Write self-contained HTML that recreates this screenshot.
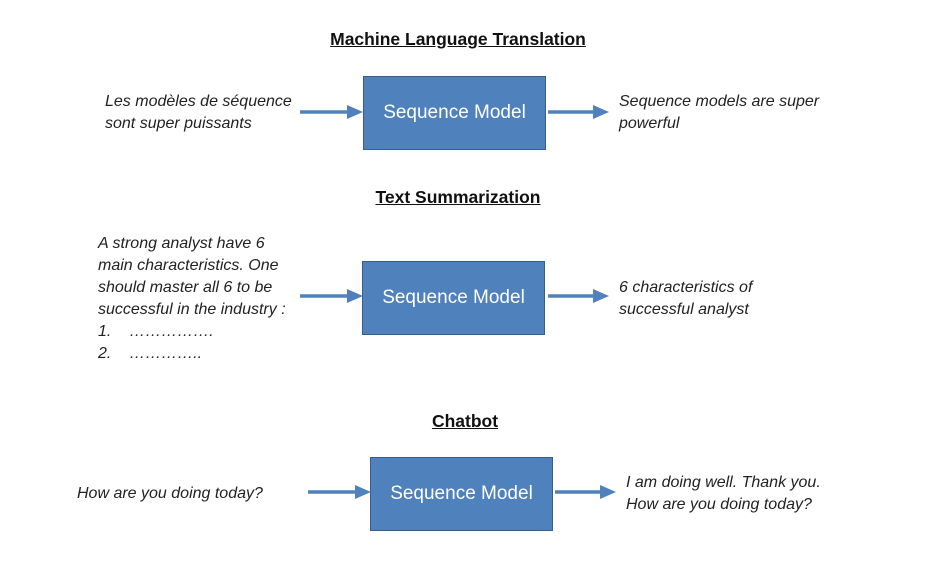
<!DOCTYPE html>
<html><head><meta charset="utf-8"><style>
body{margin:0;width:931px;height:568px;background:#fff;position:relative;overflow:hidden;font-family:"Liberation Sans",sans-serif;}
.t{position:absolute;font-weight:bold;text-decoration:underline;font-size:17.5px;color:#111;white-space:nowrap;transform:translateX(-50%);}
.box{position:absolute;width:181px;height:72px;background:#4f81bd;border:1.5px solid #385d8a;color:#fff;font-size:19px;display:flex;align-items:center;justify-content:center;}
.i{position:absolute;font-style:italic;font-size:16px;line-height:22px;color:#222;white-space:nowrap;}
svg{position:absolute;left:0;top:0;}
</style></head><body>
<div class="t" style="left:458px;top:29px">Machine Language Translation</div>
<div class="t" style="left:458px;top:187px">Text Summarization</div>
<div class="t" style="left:465px;top:411px">Chatbot</div>

<div class="box" style="left:363px;top:76px">Sequence Model</div>
<div class="box" style="left:362px;top:261px">Sequence Model</div>
<div class="box" style="left:370px;top:457px">Sequence Model</div>

<svg width="931" height="568">
<g stroke="#4f81bd" stroke-width="3.5">
<line x1="300" y1="112" x2="350" y2="112"/><line x1="548" y1="112" x2="596" y2="112"/>
<line x1="300" y1="296" x2="350" y2="296"/><line x1="548" y1="296" x2="596" y2="296"/>
<line x1="308" y1="492" x2="358" y2="492"/><line x1="555" y1="492" x2="603" y2="492"/>
</g>
<g fill="#4f81bd">
<polygon points="347,105 363,112 347,119"/><polygon points="593,105 609,112 593,119"/>
<polygon points="347,289 363,296 347,303"/><polygon points="593,289 609,296 593,303"/>
<polygon points="355,485 371,492 355,499"/><polygon points="600,485 616,492 600,499"/>
</g>
</svg>

<div class="i" style="left:105px;top:91px">Les modèles de séquence<br>sont super puissants</div>
<div class="i" style="left:619px;top:91px">Sequence models are super<br>powerful</div>
<div class="i" style="left:98px;top:233px">A strong analyst have 6<br>main characteristics. One<br>should master all 6 to be<br>successful in the industry :<br>1.&nbsp;&nbsp;&nbsp;&nbsp;…………….<br>2.&nbsp;&nbsp;&nbsp;&nbsp;…………..</div>
<div class="i" style="left:619px;top:277px">6 characteristics of<br>successful analyst</div>
<div class="i" style="left:77px;top:483px">How are you doing today?</div>
<div class="i" style="left:626px;top:472px">I am doing well. Thank you.<br>How are you doing today?</div>
</body></html>
